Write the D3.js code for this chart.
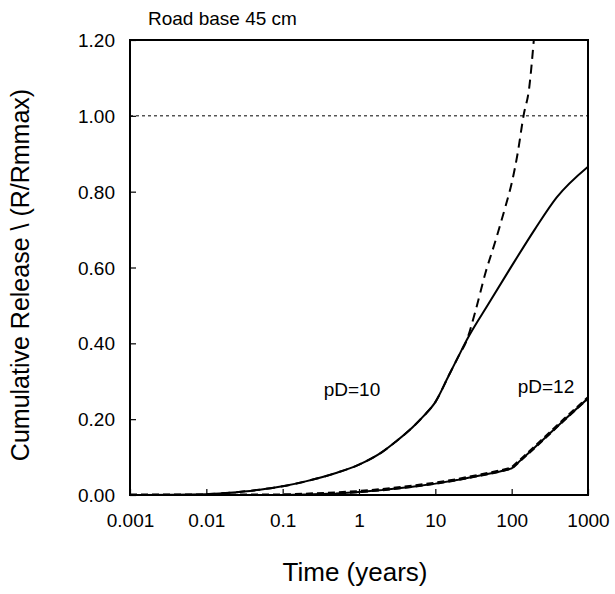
<!DOCTYPE html>
<html>
<head>
<meta charset="utf-8">
<script src="https://cdn.jsdelivr.net/npm/d3@7"></script>
<style>
  body { margin: 0; background: #fff; }
  svg text { font-family: Arial, "Liberation Sans", sans-serif; fill: #000; }
</style>
</head>
<body>
<div id="chart"></div>
<script>
/* Cumulative release vs time, road base 45 cm, two pD cases (solid = model, dashed = approximation) */

const xTickVals   = [0.001, 0.01, 0.1, 1, 10, 100, 1000];
const xTickLabels = ["0.001", "0.01", "0.1", "1", "10", "100", "1000"];
const yTickVals   = [0, 0.2, 0.4, 0.6, 0.8, 1.0, 1.2];

// pD = 10
const pd10Time  = [0.001, 0.01, 0.02, 0.05, 0.1, 0.2, 0.5, 1, 2, 3, 5, 7, 10, 15, 20, 26, 50, 94, 200, 389, 1000];
const pd10Solid = [0, 0.002, 0.006, 0.014, 0.023, 0.036, 0.058, 0.08, 0.113, 0.14, 0.178, 0.208, 0.245, 0.315, 0.365, 0.41, 0.505, 0.595, 0.70, 0.785, 0.866];
const pd10DashTime = [0.01, 0.02, 0.05, 0.1, 0.2, 0.5, 1, 2, 3, 5, 7, 10, 15, 20, 26, 33, 46, 60, 84, 100, 120, 143, 170, 195];
const pd10Dash     = [0.002, 0.006, 0.014, 0.023, 0.036, 0.058, 0.08, 0.113, 0.14, 0.178, 0.208, 0.245, 0.315, 0.365, 0.41, 0.48, 0.59, 0.664, 0.765, 0.822, 0.902, 1.0, 1.075, 1.2];

// pD = 12
const pd12Time  = [0.001, 0.1, 0.2, 0.5, 1, 2, 5, 10, 20, 40, 70, 100, 200, 500, 1000];
const pd12Solid = [0, 0, 0.001, 0.004, 0.008, 0.013, 0.022, 0.03, 0.04, 0.052, 0.062, 0.07, 0.125, 0.2, 0.255];
const pd12Dash  = [0, 0, 0.002, 0.005, 0.009, 0.014, 0.023, 0.031, 0.041, 0.053, 0.063, 0.071, 0.126, 0.201, 0.256];

const W = 615, H = 594;
const L = 130, R = 588, T = 40, B = 495;

const svg = d3.select("#chart").append("svg").attr("width", W).attr("height", H);

const x = d3.scaleLog().domain([0.001, 1000]).range([L, R]);
const y = d3.scaleLinear().domain([0, 1.2]).range([B, T]);

svg.append("defs").append("clipPath").attr("id", "plotclip")
  .append("rect").attr("x", L).attr("y", T).attr("width", R - L).attr("height", B - T);

// reference line at R/Rmmax = 1
svg.append("line")
  .attr("x1", L).attr("x2", R).attr("y1", y(1)).attr("y2", y(1))
  .attr("stroke", "#000").attr("stroke-width", 1).attr("stroke-dasharray", "3,3");

// axes, ticks pointing inward
const xAxis = svg.append("g").attr("transform", `translate(0,${B})`)
  .call(d3.axisBottom(x).tickValues(xTickVals).tickSizeInner(-6).tickSizeOuter(0)
        .tickFormat((d, i) => xTickLabels[i]));
const yAxis = svg.append("g").attr("transform", `translate(${L},0)`)
  .call(d3.axisLeft(y).tickValues(yTickVals).tickSizeInner(-6).tickSizeOuter(0)
        .tickFormat(d3.format(".2f")));

[xAxis, yAxis].forEach(g => {
  g.select(".domain").remove();
  g.selectAll(".tick line").attr("stroke", "#000").attr("stroke-width", 1.2);
  g.selectAll("text").attr("font-size", 19).style("font-family", "Arial, 'Liberation Sans', sans-serif");
});
xAxis.selectAll("text").attr("dy", null).attr("y", 32);
yAxis.selectAll("text").attr("x", -15).attr("dy", "0.35em");

// plot frame
svg.append("rect").attr("x", L).attr("y", T).attr("width", R - L).attr("height", B - T)
  .attr("fill", "none").attr("stroke", "#000").attr("stroke-width", 2);

const plot = svg.append("g").attr("clip-path", "url(#plotclip)");

function drawSeries(times, vals, width, dash, curve){
  const line = d3.line().x(d => x(d[0])).y(d => y(d[1])).curve(curve);
  plot.append("path")
    .datum(times.map((t, i) => [t, vals[i]]))
    .attr("d", line)
    .attr("fill", "none").attr("stroke", "#000")
    .attr("stroke-width", width)
    .attr("stroke-dasharray", dash);
}

drawSeries(pd10Time, pd10Solid, 2, null, d3.curveMonotoneX);
drawSeries(pd10DashTime, pd10Dash, 2, "9,6", d3.curveMonotoneX);
drawSeries(pd12Time, pd12Solid, 2, null, d3.curveLinear);
drawSeries(pd12Time, pd12Dash, 3.2, "7,4", d3.curveLinear);

// labels
svg.append("text").attr("x", 148).attr("y", 25).attr("font-size", 19).text("Road base 45 cm");
svg.append("text").attr("x", 352).attr("y", 396).attr("text-anchor", "middle").attr("font-size", 19).text("pD=10");
svg.append("text").attr("x", 546).attr("y", 393).attr("text-anchor", "middle").attr("font-size", 19).text("pD=12");

svg.append("text").attr("x", 355).attr("y", 581).attr("text-anchor", "middle")
  .attr("font-size", 26).text("Time (years)");
svg.append("text")
  .attr("transform", "translate(29,275) rotate(-90)")
  .attr("text-anchor", "middle").attr("font-size", 25)
  .text("Cumulative Release \\ (R/Rmmax)");
</script>
</body>
</html>
